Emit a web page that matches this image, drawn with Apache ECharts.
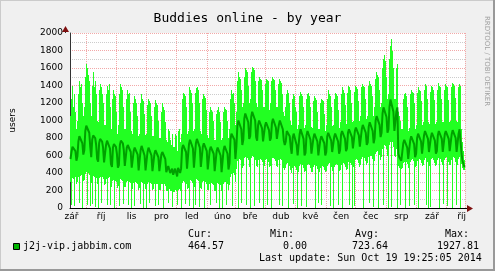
<!DOCTYPE html>
<html><head><meta charset="utf-8">
<script src="https://cdn.jsdelivr.net/npm/echarts@6/dist/echarts.min.js"></script>
<style>html,body{margin:0;padding:0;background:#f0f0f0}#c{width:495px;height:271px}</style>
</head><body><div id="c"></div>
<script>
const chartTitle = 'Buddies online - by year';
const seriesName = 'j2j-vip.jabbim.com';
const yAxisName = 'users';
const monthNames = ['led','úno','bře','dub','kvě','čen','čec','srp','zář','říj','lis','pro'];
const statLabels = ['Cur:', 'Min:', 'Avg:', 'Max:'];
const statValues = ['464.57', '0.00', '723.64', '1927.81'];
const lastUpdate = 'Last update: Sun Oct 19 19:25:05 2014';
const watermark = 'RRDTOOL / TOBI OETIKER';

// daily average (one value per day from Sun 2013-09-15 to Sun 2014-10-19)
const avgValues = [
560,640,700,690,710,650,540,
590,760,820,800,830,740,610,
660,880,940,950,920,860,700,
580,780,830,810,800,720,560,
530,740,790,770,760,690,520,
510,720,770,750,760,680,500,
470,690,730,720,700,620,460,
490,720,770,760,740,660,480,
470,690,720,730,710,640,460,
440,650,690,700,680,610,430,
440,660,710,700,690,600,430,
440,640,690,680,670,600,420,
430,620,660,670,650,580,420,
420,610,640,650,630,560,410,
390,480,470,400,380,450,380,
370,450,440,360,460,480,400,
450,680,720,730,710,640,450,
470,730,780,790,760,680,460,
480,740,790,800,780,690,470,
450,700,740,750,730,650,440,
430,660,700,710,690,620,420,
410,650,690,700,680,600,410,
430,660,710,700,700,620,440,
510,780,850,870,860,780,560,
700,940,1000,1010,990,900,720,
780,1020,1080,1090,1070,980,790,
820,1040,1100,1110,1090,1000,810,
770,950,1000,1010,990,910,760,
780,940,980,990,970,890,770,
800,970,1020,1030,1010,920,790,
780,950,1000,1010,990,900,770,
720,760,880,900,890,820,700,
620,800,850,860,840,720,600,
610,840,900,890,880,790,600,
630,830,880,890,870,780,620,
610,800,850,860,840,760,600,
600,780,820,830,810,740,600,
640,820,860,870,850,770,640,
630,810,850,860,840,760,620,
660,840,880,890,870,790,650,
680,860,900,910,890,810,680,
700,880,920,930,910,830,700,
720,900,950,960,940,860,720,
750,930,980,990,970,880,740,
800,1000,1050,1060,1040,950,810,
860,1080,1150,1160,1140,1040,860,
900,1150,1240,1250,1230,1100,880,
860,1100,1150,620,580,560,540,
560,740,780,790,770,690,560,
580,770,820,830,810,730,580,
620,800,850,860,840,760,620,
640,830,880,890,870,790,640,
630,810,860,870,850,770,620,
650,830,880,890,870,790,640,
650,840,880,890,870,790,650,
650,840,890,900,880,800,640,
640,850,900,890,620,540,500,
465
];

// daily maximum
const maxValues = [
1050,1250,1400,1150,1300,1100,900,
1000,1300,1450,1380,1420,1200,1050,
1150,1500,1650,1600,1520,1450,1200,
1050,1400,1550,1380,1450,1300,1000,
980,1350,1420,1380,1300,1200,950,
950,1300,1400,1350,1420,1150,900,
900,1250,1350,1300,1280,1100,850,
950,1300,1420,1380,1350,1150,900,
900,1250,1350,1300,1320,1100,880,
850,1200,1280,1250,1200,1050,820,
850,1200,1300,1250,1220,1080,830,
850,1180,1250,1220,1200,1050,820,
820,1150,1230,1200,1180,1000,800,
800,1100,1200,1150,1120,980,780,
750,900,880,780,720,850,700,
700,850,820,650,880,900,760,
850,1250,1320,1300,1280,1150,850,
880,1300,1380,1350,1320,1200,880,
900,1320,1370,1380,1350,1200,880,
850,1250,1300,1280,1260,1120,830,
800,1100,1150,1120,1100,1000,780,
780,1080,1120,1150,1100,980,780,
800,1100,1150,1130,1120,1000,800,
900,1250,1350,1300,1320,1200,950,
1100,1450,1550,1500,1480,1350,1150,
1200,1500,1600,1580,1550,1400,1200,
1250,1550,1610,1600,1580,1450,1200,
1150,1450,1500,1480,1460,1350,1150,
1150,1420,1480,1460,1450,1320,1120,
1200,1450,1500,1480,1460,1350,1150,
1150,1420,1470,1450,1430,1300,1100,
1050,1150,1300,1350,1320,1200,1000,
950,1250,1300,1280,1150,1100,900,
950,1280,1330,1300,1280,1150,920,
950,1250,1300,1320,1280,1150,930,
920,1220,1280,1260,1240,1100,900,
900,1200,1250,1230,1220,1080,880,
950,1250,1350,1300,1280,1150,940,
950,1250,1320,1300,1280,1120,920,
980,1300,1380,1350,1320,1180,960,
1000,1320,1400,1380,1350,1200,980,
1000,1330,1400,1380,1360,1220,1000,
1050,1380,1420,1400,1380,1250,1020,
1050,1400,1450,1420,1400,1280,1050,
1150,1480,1550,1520,1500,1350,1150,
1200,1600,1700,1750,1680,1500,1250,
1300,1700,1850,1928,1800,1600,1250,
1250,1600,1650,1100,1050,1000,900,
900,1250,1300,1320,1280,1150,880,
920,1300,1350,1330,1320,1200,900,
950,1320,1380,1350,1340,1220,950,
980,1350,1420,1400,1380,1250,980,
960,1330,1400,1380,1350,1230,960,
980,1350,1430,1400,1380,1250,980,
980,1350,1420,1400,1380,1240,980,
990,1380,1430,1420,1400,1260,990,
980,1380,1420,1400,900,750,650,
550
];

// daily minimum
const minValues = [
300,30,340,330,20,350,280,
300,360,60,370,380,0,310,
320,390,410,30,400,380,20,
290,50,370,360,10,340,280,
0,340,360,60,350,330,260,
270,330,40,340,350,320,30,
240,310,320,0,310,300,230,
250,20,330,320,310,50,240,
240,300,310,40,300,290,0,
220,290,20,300,290,280,210,
230,50,300,290,0,280,220,
0,280,300,60,290,270,210,
220,270,20,280,270,30,210,
210,270,280,0,270,250,200,
190,60,220,200,190,10,180,
180,210,200,40,210,220,190,
0,290,310,300,50,280,220,
230,310,20,320,310,290,0,
240,40,330,320,310,10,230,
220,300,310,0,300,280,210,
210,280,30,290,280,260,200,
200,60,290,280,0,260,200,
0,280,300,300,40,280,210,
260,360,390,20,400,380,300,
450,540,0,560,550,60,460,
480,570,580,30,570,550,470,
0,570,590,580,20,550,480,
470,550,60,560,550,530,0,
480,550,560,30,560,530,470,
480,0,570,570,560,540,480,
470,550,40,560,550,20,460,
440,460,500,510,0,480,430,
400,460,50,480,470,440,0,
410,480,500,20,490,460,410,
420,10,490,500,490,460,410,
410,470,490,0,480,450,60,
410,460,30,480,470,440,410,
420,480,500,510,20,470,420,
0,470,490,500,490,40,420,
430,490,0,510,500,470,430,
450,510,530,30,520,490,0,
470,20,550,560,550,520,470,
490,560,580,0,570,540,490,
510,580,60,600,590,560,10,
540,620,640,650,0,610,550,
580,680,30,720,710,670,590,
0,720,760,10,750,700,600,
580,680,0,480,460,40,450,
460,520,530,0,530,500,460,
20,530,550,560,540,40,470,
480,540,0,560,550,520,480,
490,550,570,30,560,530,0,
480,10,560,570,550,520,480,
490,550,570,0,560,530,490,
50,550,570,580,20,530,490,
490,550,0,580,570,530,30,
490,560,580,0,500,460,440,
430
];

// one category per day
const categories = [];
for (let i = 0; i < avgValues.length; i++) {
  const d = new Date(Date.UTC(2013, 8, 15 + i));
  categories.push(d.toISOString().slice(0, 10));
}
const bandData = categories.map((c, i) => [i, minValues[i], maxValues[i]]);

const mono = 'DejaVu Sans Mono';
const sans = 'DejaVu Sans';
const statX = [188, 270, 355, 445];
const valX = [188, 283, 352, 437];

const chart = echarts.init(document.getElementById('c'), null, {renderer: 'canvas'});
chart.setOption({
  animation: false,
  backgroundColor: '#f0f0f0',
  title: {
    text: chartTitle, left: 'center', top: 7,
    textStyle: {fontFamily: mono, fontSize: 13, fontWeight: 'normal', color: '#000'}
  },
  grid: {left: 65, right: 30, top: 33, bottom: 63, show: true, backgroundColor: '#fff', borderWidth: 0},
  xAxis: {
    type: 'category', data: categories, boundaryGap: true,
    axisLine: {show: true, lineStyle: {color: '#000', width: 1}},
    axisTick: {show: false},
    axisLabel: {
      interval: (idx, val) => val.slice(8) === '16',
      formatter: val => monthNames[parseInt(val.slice(5, 7), 10) - 1],
      fontFamily: sans, fontSize: 9, color: '#000', margin: 4
    },
    splitLine: {
      show: true,
      interval: (idx, val) => val.slice(8) === '01',
      lineStyle: {color: '#f2a8a8', type: [1, 1], width: 1}
    }
  },
  yAxis: {
    type: 'value', min: 0, max: 2000, interval: 200,
    name: yAxisName, nameLocation: 'middle', nameGap: 53, nameRotate: 90,
    nameTextStyle: {fontFamily: sans, fontSize: 9, color: '#000'},
    axisLine: {show: true, lineStyle: {color: '#333', width: 1}},
    axisTick: {show: false},
    minorTick: {show: false, splitNumber: 2},
    axisLabel: {fontFamily: sans, fontSize: 9, color: '#000', margin: 7, formatter: v => String(v)},
    splitLine: {show: true, lineStyle: {color: '#f2a8a8', type: [1, 1], width: 1}},
    minorSplitLine: {show: true, lineStyle: {color: '#cccccc', type: [1, 1], width: 1}}
  },
  series: [
    {
      type: 'custom', data: bandData, silent: true,
      encode: {x: 0, y: [1, 2]},
      renderItem: (params, api) => {
        const lo = api.coord([api.value(0), api.value(1)]);
        const hi = api.coord([api.value(0), api.value(2)]);
        const w = api.size([1, 0])[0];
        const x0 = Math.round(lo[0] - w / 2);
        return {
          type: 'rect',
          shape: {x: x0, y: Math.round(hi[1]), width: Math.max(1, Math.round(w)), height: Math.round(lo[1]) - Math.round(hi[1])},
          style: {fill: '#22ff22'}
        };
      }
    },
    {type: 'line', name: seriesName, data: avgValues, showSymbol: false, symbol: 'none',
     lineStyle: {color: '#00a000', width: 2}, itemStyle: {color: '#00a000'}, silent: true}
  ],
  graphic: [
    {type: 'rect', shape: {x: 0, y: 0, width: 495, height: 1}, style: {fill: '#cbcbcb'}, silent: true},
    {type: 'rect', shape: {x: 0, y: 0, width: 1, height: 271}, style: {fill: '#cbcbcb'}, silent: true},
    {type: 'rect', shape: {x: 0, y: 269, width: 495, height: 2}, style: {fill: '#999'}, silent: true},
    {type: 'rect', shape: {x: 493, y: 0, width: 2, height: 271}, style: {fill: '#999'}, silent: true},
    {type: 'line', shape: {x1: 65.5, y1: 33, x2: 65.5, y2: 29}, style: {stroke: '#333', lineWidth: 1}, silent: true},
    {type: 'polygon', shape: {points: [[62, 32], [69, 32], [65.5, 26]]}, style: {fill: '#7f1010'}, silent: true},
    {type: 'line', shape: {x1: 465, y1: 208.5, x2: 469, y2: 208.5}, style: {stroke: '#000', lineWidth: 1}, silent: true},
    {type: 'polygon', shape: {points: [[467, 205], [467, 212], [473, 208.5]]}, style: {fill: '#7f1010'}, silent: true},
    {type: 'text', x: 487, y: 61, rotation: -Math.PI / 2, silent: true,
     style: {text: watermark, fontFamily: sans, fontSize: 7, fill: '#a0a0a0', align: 'center', verticalAlign: 'middle'}},
    {type: 'rect', shape: {x: 13.5, y: 243.5, width: 6, height: 6}, style: {fill: '#00b400', stroke: '#000', lineWidth: 1}, silent: true},
    {type: 'text', x: 23, y: 246.5, silent: true,
     style: {text: seriesName, fontFamily: mono, fontSize: 10, fill: '#000', verticalAlign: 'middle'}},
    ...statLabels.map((t, i) => ({type: 'text', x: statX[i], y: 234.5, silent: true,
     style: {text: t, fontFamily: mono, fontSize: 10, fill: '#000', verticalAlign: 'middle'}})),
    ...statValues.map((t, i) => ({type: 'text', x: valX[i], y: 246.5, silent: true,
     style: {text: t, fontFamily: mono, fontSize: 10, fill: '#000', verticalAlign: 'middle'}})),
    {type: 'text', x: 259, y: 258, silent: true,
     style: {text: lastUpdate, fontFamily: mono, fontSize: 10, fill: '#000', verticalAlign: 'middle'}}
  ]
});
</script>
</body></html>
